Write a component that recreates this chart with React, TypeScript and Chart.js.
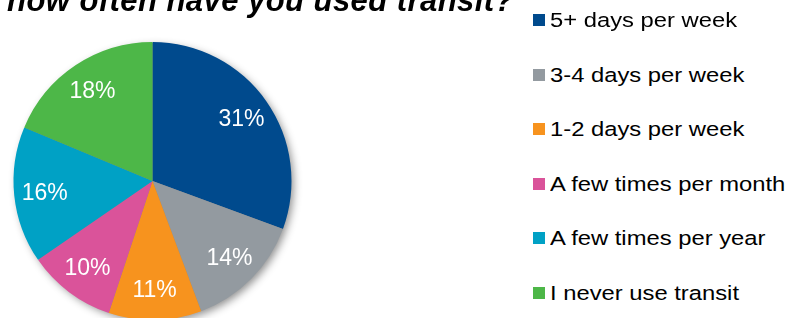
import React, { useEffect, useRef } from "react";
import { Chart, registerables } from "chart.js";

Chart.register(...registerables);

const title = "how often have you used transit?";
const categories = [
  "5+ days per week",
  "3-4 days per week",
  "1-2 days per week",
  "A few times per month",
  "A few times per year",
  "I never use transit",
];
const shares = [30.6, 13.7, 10.8, 10.3, 15.9, 18.7];
const shareLabels = ["31%", "14%", "11%", "10%", "16%", "18%"];
const colors = ["#004A8D", "#939AA0", "#F7931E", "#DA539A", "#00A1C5", "#4DB748"];

const FONT = '"Liberation Sans", Arial, sans-serif';

const shadowPlugin = {
  id: "pieShadow",
  beforeDatasetsDraw(chart: any) {
    const meta = chart.getDatasetMeta(0);
    const arc = meta.data[0];
    if (!arc) return;
    const { x, y, outerRadius } = arc.getProps(["x", "y", "outerRadius"], true);
    const ctx = chart.ctx;
    ctx.save();
    ctx.shadowColor = "rgba(0,0,0,0.45)";
    ctx.shadowBlur = 9;
    ctx.shadowOffsetX = 3;
    ctx.shadowOffsetY = 3;
    ctx.fillStyle = "#888";
    ctx.beginPath();
    ctx.arc(x, y, outerRadius - 1, 0, Math.PI * 2);
    ctx.fill();
    ctx.restore();
  },
};

const labelPlugin = {
  id: "sliceLabels",
  afterDatasetsDraw(chart: any) {
    const meta = chart.getDatasetMeta(0);
    const ctx = chart.ctx;
    ctx.save();
    ctx.fillStyle = "#ffffff";
    ctx.font = `23px ${FONT}`;
    ctx.textAlign = "center";
    ctx.textBaseline = "middle";
    meta.data.forEach((arc: any, i: number) => {
      const { x, y, startAngle, endAngle, outerRadius } = arc.getProps(
        ["x", "y", "startAngle", "endAngle", "outerRadius"],
        true
      );
      const mid = (startAngle + endAngle) / 2;
      const r = outerRadius * 0.78;
      ctx.fillText(shareLabels[i], x + Math.cos(mid) * r, y + Math.sin(mid) * r + 1);
    });
    ctx.restore();
  },
};

export default function App() {
  const canvasRef = useRef<HTMLCanvasElement | null>(null);

  useEffect(() => {
    if (!canvasRef.current) return;
    const chart = new Chart(canvasRef.current, {
      type: "pie",
      data: {
        labels: categories,
        datasets: [
          {
            data: shares,
            backgroundColor: colors,
            borderWidth: 0,
          },
        ],
      },
      options: {
        responsive: false,
        maintainAspectRatio: false,
        animation: false,
        radius: 139,
        layout: { padding: { left: 13, right: 13, top: 0, bottom: 0 } },
        plugins: {
          legend: { display: false },
          tooltip: { enabled: false },
          title: { display: false },
        },
      } as any,
      plugins: [shadowPlugin, labelPlugin],
    });
    return () => chart.destroy();
  }, []);

  return (
    <div
      style={{
        position: "absolute",
        left: 0,
        top: 0,
        width: 805,
        height: 318,
        overflow: "hidden",
        background: "#ffffff",
        fontFamily: FONT,
      }}
    >
      <canvas
        ref={canvasRef}
        width={305}
        height={362}
        style={{ position: "absolute", left: 0, top: 0, width: 305, height: 362 }}
      />
      <div
        style={{
          position: "absolute",
          left: 7,
          top: -15,
          fontSize: 31,
          lineHeight: "31px",
          fontWeight: "bold",
          fontStyle: "italic",
          letterSpacing: 0.45,
          color: "#000",
          whiteSpace: "nowrap",
        }}
      >
        {title}
      </div>
      {categories.map((c, i) => (
        <div
          key={c}
          style={{
            position: "absolute",
            left: 533,
            top: 20 + i * 54.5 - 12,
            height: 24,
            display: "flex",
            alignItems: "center",
            whiteSpace: "nowrap",
          }}
        >
          <span
            style={{
              display: "inline-block",
              width: 12,
              height: 12,
              background: colors[i],
              marginRight: 5,
            }}
          />
          <span
            style={{
              display: "inline-block",
              fontSize: 20.5,
              lineHeight: "24px",
              color: "#000",
              transform: "scaleX(1.16)",
              transformOrigin: "left center",
            }}
          >
            {c}
          </span>
        </div>
      ))}
    </div>
  );
}
